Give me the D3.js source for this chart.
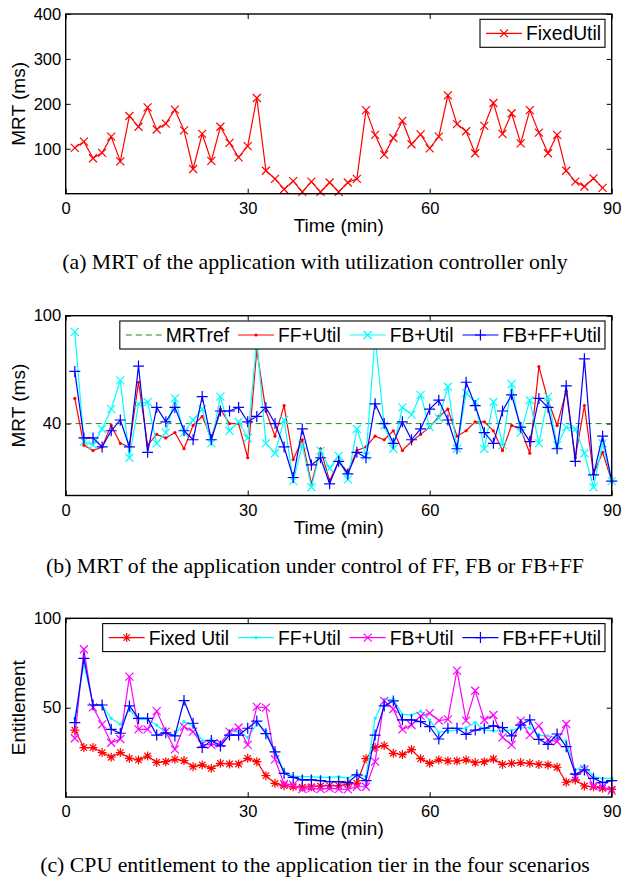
<!DOCTYPE html>
<html><head><meta charset="utf-8">
<script src="https://cdn.jsdelivr.net/npm/d3@7"></script>
<style>body{margin:0;background:#fff}svg{display:block}</style>
</head><body><svg id="c" width="622" height="878"></svg>
<script>
// ---------- data ----------
const sampleMin = 1.5;               // sampling interval (min)
const xTicks = [0, 30, 60, 90];

// (a) MRT, utilization controller only
const fixedUtilMRT = [102,116,79,91,127,72,173,149,192,143,156,187,141,55,133,73,149,113,81,106,
  213,51,33,10,28,4,27,4,25,4,25,33,186,131,87,124,162,110,132,101,
  127,219,155,139,90,151,202,133,179,112,186,136,90,131,51,27,16,34,13];
const yTicksA = [100, 200, 300, 400];

// (b) MRT under FF, FB, FB+FF
const mrtRef = 40;
const ffUtilMRT = [54,28,25,27,39,29,27,63,28,34,32,35,26,39,44,32,48,40,40,21,
  81,47,33,50,20,31,6.5,26,8,19,13,25,27,33,31,36,25,30,34,38,
  44,48,33,36,41,41,36,25,39,37,23.5,71.7,53,39,58,21,50,12,24,8];
const fbUtilMRT = [91,30,28,37,48,64,21,51,52,29,35,54,35,42,48,29,55,36,41,32,
  86,29,23.5,42,8,28,4.6,25,15,22,9,37,22,88,39,26,49,45,56,38,
  43,60.5,26,57,52,26,52,28,62,35,53,29,55,28,38,37,23.5,4.6,29,8];
const fbffUtilMRT = [69,32,32,27,36,42,27,72,24,49,41,49,36,31,55,31,47,47,49,41,
  44,49,40,27,10,37,17,21,6.5,19,12,24,21,51,40,29,41,31,37,48,
  53,42,26,63,50,35,29,47,56,38,30,54,49,26,61,19,76,11.5,33,8];
const yTicksB = [40, 100];

// (c) CPU entitlement
const fixedUtilEnt = [37.5,27.7,27.7,24.9,22.3,24.9,21.7,20.8,23,19.4,19.8,21.1,20.4,17,18,16.1,18.9,18.5,18.5,21.7,
  19.8,12,7.7,6.4,5.8,5.5,5.8,6.2,6.4,6.4,7.3,7.7,21.5,27.8,28.8,24.5,23.8,26.5,21.5,18.9,
  20.8,20.2,20.2,20.8,19.3,19.8,21.3,18.3,18.9,19.3,18.9,18.3,18,16.7,8.3,9.6,6.2,5.8,4.9,4.3];
const ffUtilEnt = [44,74.8,51.5,51.5,44,40.7,48.7,43.5,43.5,40.3,35.7,34.7,42.2,39.8,31.6,32.3,29.2,36.6,36.6,33.4,
  41,37,26.3,14.2,11.8,11.4,11.4,11,11,11.4,10.5,13.3,11.4,44,54.7,54.7,46.3,45.9,48.1,43.1,
  36.2,37,37.5,38.8,41.8,37.5,37,37,37.5,38.8,38.8,34.7,34.3,32.9,31.4,15.2,17.6,11.4,10.5,10.5];
const fbUtilEnt = [32.9,82.7,50.2,40.7,30.4,32.5,67.4,37.9,37.9,48.1,36.6,26.7,39.4,36.6,29.5,29.2,30.1,36.6,38.9,29.2,
  50.5,50,21.1,7.3,6.8,4.5,4.9,4.5,4.9,4.5,4.3,5.8,5.8,19.8,53.8,49.3,37.9,40.3,45.4,47,
  42.8,43.5,70.7,42.8,59.5,43.1,45.9,33.4,29.2,42.8,34.7,39.8,32,31.1,40.9,11.4,15.5,6.2,5.8,3.6];
const fbffUtilEnt = [41.7,77.6,51.5,51.5,37.9,35.7,51,44,44,34.7,36,34.2,54,41.3,27.8,31.6,28.6,34.7,34.7,38.5,
  42.5,35.5,25.3,13.3,11,9.6,9.6,9.2,8.6,8.6,8.1,12.4,9.2,34.7,51,53.8,43.2,43.2,42.2,39.4,
  32.5,38.5,38.5,35.1,37.5,38.5,39.8,38.9,34.2,40.3,43.2,32.3,29.5,35.3,28.2,12.9,15.2,10.5,8.1,9.2];
const yTicksC = [50, 100];

// ---------- drawing ----------
const svg = d3.select('#c');
const SANS = 'Liberation Sans, Arial, Helvetica, sans-serif';
const SERIF = 'Liberation Serif, Times New Roman, serif';
const L = 65.7, R = 611.7;

function markerPath(type, s) {
  if (type === 'x') return `M${-s},${-s}L${s},${s}M${-s},${s}L${s},${-s}`;
  if (type === '+') return `M${-s},0L${s},0M0,${-s}L0,${s}`;
  if (type === '*') { const d = s * 0.72;
    return `M${-s},0L${s},0M0,${-s}L0,${s}M${-d},${-d}L${d},${d}M${-d},${d}L${d},${-d}`; }
  return '';
}

function drawPanel(cfg) {
  const x = d3.scaleLinear().domain([0, 90]).range([L, R]);
  const y = d3.scaleLinear().domain([0, cfg.yMax]).range([cfg.bottom, cfg.top]);
  const g = svg.append('g');

  const styleAxis = sel => {
    sel.select('.domain').remove();
    sel.selectAll('line').attr('stroke', '#000').attr('stroke-width', 1);
    sel.selectAll('text').attr('font-family', SANS).attr('font-size', 16.5).attr('fill', '#000');
  };
  g.append('g').attr('transform', `translate(0,${cfg.bottom})`)
    .call(d3.axisBottom(x).tickValues(xTicks).tickSizeInner(-5).tickSizeOuter(0).tickPadding(8.4).tickFormat(d3.format('d')))
    .call(styleAxis);
  g.append('g').attr('transform', `translate(0,${cfg.top})`)
    .call(d3.axisTop(x).tickValues(xTicks).tickSizeInner(-5).tickSizeOuter(0).tickFormat(''))
    .call(styleAxis);
  g.append('g').attr('transform', `translate(${L},0)`)
    .call(d3.axisLeft(y).tickValues(cfg.yTicks).tickSizeInner(-5).tickSizeOuter(0).tickPadding(4.5).tickFormat(d3.format('d')))
    .call(styleAxis);
  g.append('g').attr('transform', `translate(${R},0)`)
    .call(d3.axisRight(y).tickValues(cfg.yTicks).tickSizeInner(-5).tickSizeOuter(0).tickFormat(''))
    .call(styleAxis);

  if (cfg.ref !== undefined) {
    g.append('line').attr('x1', x(0)).attr('x2', x(90)).attr('y1', y(cfg.ref)).attr('y2', y(cfg.ref))
      .attr('stroke', '#178a17').attr('stroke-width', 1).attr('stroke-dasharray', '6,4');
  }

  cfg.series.forEach(s => {
    const pts = s.values.map((v, i) => ({ t: (i + 1) * sampleMin, v }));
    g.append('path').datum(pts)
      .attr('d', d3.line().x(d => x(d.t)).y(d => y(d.v)))
      .attr('fill', 'none').attr('stroke', s.color).attr('stroke-width', 1.2);
    if (s.marker === 'dot') {
      g.append('g').selectAll('circle').data(pts).join('circle')
        .attr('cx', d => x(d.t)).attr('cy', d => y(d.v)).attr('r', 1.6).attr('fill', s.color);
    } else {
      g.append('g').selectAll('path').data(pts).join('path')
        .attr('transform', d => `translate(${x(d.t)},${y(d.v)})`)
        .attr('d', markerPath(s.marker, s.size)).attr('stroke', s.color).attr('stroke-width', 1.2).attr('fill', 'none');
    }
  });

  g.append('rect').attr('x', L).attr('y', cfg.top).attr('width', R - L).attr('height', cfg.bottom - cfg.top)
    .attr('fill', 'none').attr('stroke', '#000').attr('stroke-width', 1.4);

  // legend
  const lg = g.append('g');
  const box = lg.append('rect').attr('fill', '#fff').attr('stroke', '#000').attr('stroke-width', 1.1);
  const boxTop = cfg.top + 5.3, boxH = 28, cy = boxTop + boxH / 2;
  let cx = 0;
  const items = [];
  cfg.legend.forEach(e => {
    const it = lg.append('g');
    const lineLen = 36;
    it.append('line').attr('x1', 0).attr('x2', lineLen).attr('y1', 0).attr('y2', 0)
      .attr('stroke', e.color).attr('stroke-width', 1.2).attr('stroke-dasharray', e.dash || null);
    if (e.marker === 'dot') it.append('circle').attr('cx', lineLen / 2).attr('r', 1.6).attr('fill', e.color);
    else if (e.marker) it.append('path').attr('transform', `translate(${lineLen / 2},0)`)
      .attr('d', markerPath(e.marker, e.size)).attr('stroke', e.color).attr('stroke-width', 1.2);
    const t = it.append('text').attr('x', lineLen + 4).attr('y', 6.9).text(e.name)
      .attr('font-family', SANS).attr('font-size', 19.3).attr('fill', '#000');
    const w = lineLen + 4 + t.node().getComputedTextLength();
    items.push({ it, off: cx });
    cx += w + 9;
  });
  const total = cx - 9;
  const padL = 6, padR = 4, boxRight = 605;
  const boxLeft = boxRight - total - padL - padR;
  box.attr('x', boxLeft).attr('y', boxTop).attr('width', boxRight - boxLeft).attr('height', boxH);
  items.forEach(o => o.it.attr('transform', `translate(${boxLeft + padL + o.off},${cy})`));

  // labels
  svg.append('text').attr('x', (L + R) / 2).attr('y', cfg.bottom + 38).attr('text-anchor', 'middle')
    .attr('font-family', SANS).attr('font-size', 19).text('Time (min)');
  svg.append('text').attr('transform', `translate(24.5,${(cfg.top + cfg.bottom) / 2}) rotate(-90)`)
    .attr('text-anchor', 'middle').attr('font-family', SANS).attr('font-size', 19).text(cfg.yLabel);
  svg.append('text').attr('x', 315).attr('y', cfg.captionY).attr('text-anchor', 'middle')
    .attr('font-family', SERIF).attr('font-size', 21.8).text(cfg.caption);
}

drawPanel({
  top: 14, bottom: 193.7, yMax: 400, yTicks: yTicksA, yLabel: 'MRT (ms)',
  caption: '(a) MRT of the application with utilization controller only', captionY: 269,
  series: [{ values: fixedUtilMRT, color: '#ff0000', marker: 'x', size: 4 }],
  legend: [{ name: 'FixedUtil', color: '#ff0000', marker: 'x', size: 4 }]
});
drawPanel({
  top: 315.7, bottom: 495.5, yMax: 100, yTicks: yTicksB, yLabel: 'MRT (ms)', ref: mrtRef,
  caption: '(b) MRT of the application under control of FF, FB or FB+FF', captionY: 573,
  series: [
    { values: ffUtilMRT, color: '#ff0000', marker: 'dot' },
    { values: fbUtilMRT, color: '#00ffff', marker: 'x', size: 4 },
    { values: fbffUtilMRT, color: '#0000ff', marker: '+', size: 5.5 }
  ],
  legend: [
    { name: 'MRTref', color: '#178a17', dash: '6,4' },
    { name: 'FF+Util', color: '#ff0000', marker: 'dot' },
    { name: 'FB+Util', color: '#00ffff', marker: 'x', size: 4 },
    { name: 'FB+FF+Util', color: '#0000ff', marker: '+', size: 5.5 }
  ]
});
drawPanel({
  top: 618.3, bottom: 797.1, yMax: 100, yTicks: yTicksC, yLabel: 'Entitlement',
  caption: '(c) CPU entitlement to the application tier in the four scenarios', captionY: 872,
  series: [
    { values: fixedUtilEnt, color: '#ff0000', marker: '*', size: 4.5 },
    { values: ffUtilEnt, color: '#00ffff', marker: 'dot' },
    { values: fbUtilEnt, color: '#ff00ff', marker: 'x', size: 4 },
    { values: fbffUtilEnt, color: '#0000ff', marker: '+', size: 5.5 }
  ],
  legend: [
    { name: 'Fixed Util', color: '#ff0000', marker: '*', size: 4.5 },
    { name: 'FF+Util', color: '#00ffff', marker: 'dot' },
    { name: 'FB+Util', color: '#ff00ff', marker: 'x', size: 4 },
    { name: 'FB+FF+Util', color: '#0000ff', marker: '+', size: 5.5 }
  ]
});
</script></body></html>
